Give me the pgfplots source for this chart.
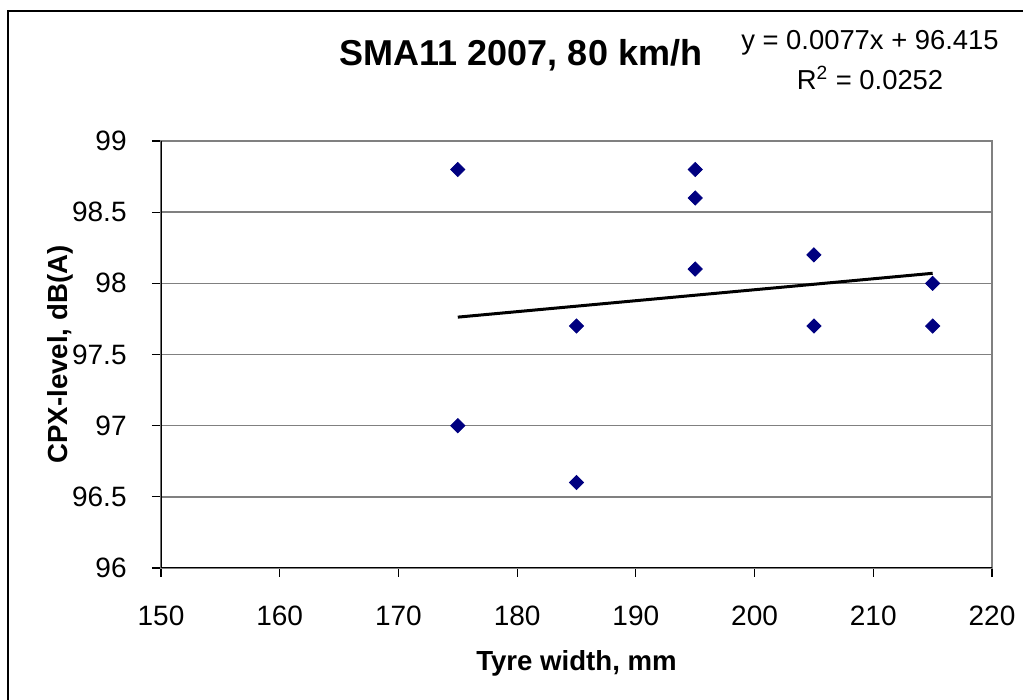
\documentclass[border=0pt]{standalone}
\usepackage{fontspec}
\setmainfont{Liberation Sans}
\usepackage{pgfplots}
\pgfplotsset{compat=1.18}
\definecolor{xlnavy}{RGB}{0,0,128}
\definecolor{xlgrid}{RGB}{128,128,128}

\newcommand{\ticksize}{\fontsize{14}{16.8}\selectfont}
\newcommand{\labsize}{\fontsize{13.8}{16.6}\selectfont}
\newcommand{\eqsize}{\fontsize{13.7}{16.4}\selectfont}

\begin{document}
\begin{tikzpicture}
\begin{axis}[
    at={(80.5pt,66pt)},
    anchor=south west,
    scale only axis,
    width=415.5pt,
    height=213.5pt,
    xmin=150, xmax=220,
    ymin=96, ymax=99,
    xtick={150,160,...,220},
    ytick={96,96.5,...,99},
    /pgf/number format/assume math mode=true,
    /pgf/number format/fixed,
    ticklabel style={font=\ticksize},
    xticklabel style={inner sep=0pt, anchor=north, yshift=-14.5pt},
    yticklabel style={inner sep=0pt, anchor=east, xshift=-12.5pt},
    tick align=outside,
    major tick length=4.5pt,
    xtick pos=bottom,
    ytick pos=left,
    tick style={black, line width=0.6pt},
    axis line style={xlgrid, line width=0.8pt},
    ymajorgrids=true,
    grid style={xlgrid, line width=0.8pt},
    xlabel={\textbf{Tyre width, mm}},
    ylabel={\textbf{CPX-level, dB(A)}},
    label style={font=\labsize},
    xlabel style={at={(axis description cs:0.5,-0.2412)}, anchor=base},
    ylabel style={at={(axis description cs:-0.1131,0.5)}, anchor=base},
]
\draw[black, line width=0.8pt] (rel axis cs:0,1) -- (rel axis cs:0,0) -- (rel axis cs:1,0);

% trend line y = 0.0077x + 96.415
\addplot[black, line width=1.5pt, no marks] coordinates {
    (175, 97.7625)
    (215, 98.0705)
};

\addplot[only marks, mark=square*, mark size=2.5pt,
    mark options={rotate=45, fill=xlnavy, draw=xlnavy}] coordinates {
    (175, 98.8) (175, 97.0)
    (185, 97.7) (185, 96.6)
    (195, 98.8) (195, 98.6) (195, 98.1)
    (205, 98.2) (205, 97.7)
    (215, 98.0) (215, 97.7)
};
\end{axis}

\node[anchor=base, font=\fontsize{18}{21.6}\selectfont\bfseries] at (260.5pt,317pt) {SMA11 2007, 80 km/h};
\node[anchor=base, font=\eqsize] at (435pt,325pt) {y = 0.0077x + 96.415};
\node[anchor=base, font=\eqsize] at (435pt,305pt) {R\textsuperscript{2} = 0.0252};

\draw[black, line width=0.7pt] (4pt,-20pt) -- (4pt,344.5pt) -- (540pt,344.5pt);

\pgfresetboundingbox
\useasboundingbox (0,0) rectangle (511.5pt,350pt);
\end{tikzpicture}
\end{document}
